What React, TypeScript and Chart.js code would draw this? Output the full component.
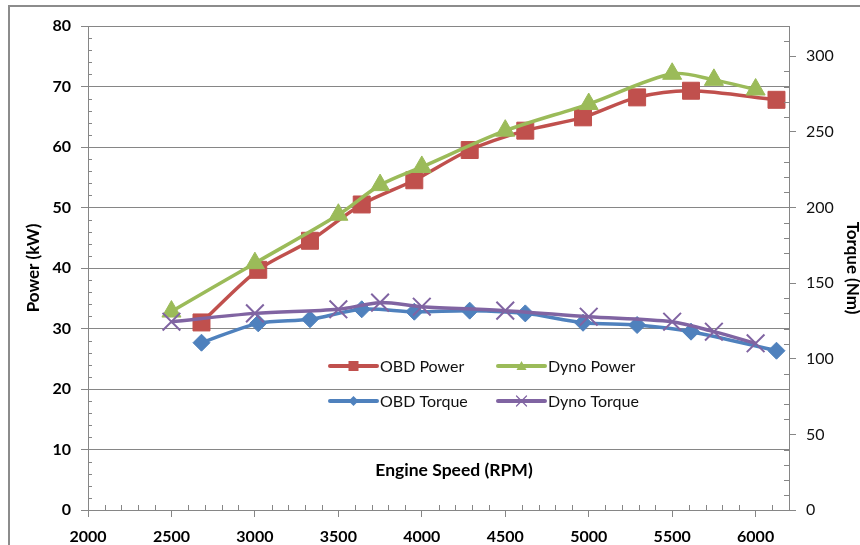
import React, { useEffect, useRef } from "react";
import { Chart, registerables } from "chart.js";

Chart.register(...registerables);

// ---- data ----
const seriesNames = ["OBD Power", "Dyno Power", "OBD Torque", "Dyno Torque"];
const rpmObd = [2680, 3020, 3330, 3640, 3955, 4287, 4620, 4966, 5290, 5613, 6125];
const obdPower = [31.0, 39.7, 44.5, 50.5, 54.5, 59.5, 62.7, 64.9, 68.2, 69.3, 67.8];
const obdTorque = [110.6, 123.4, 126.1, 132.7, 131.1, 131.8, 130.0, 123.8, 122.3, 117.9, 105.3];
const rpmDyno = [2500, 3000, 3500, 3750, 4000, 4500, 5000, 5500, 5750, 6000];
const dynoPower = [32.8, 40.8, 48.8, 53.7, 56.7, 62.7, 67.1, 72.1, 71.1, 69.5];
const dynoTorque = [124.5, 130.0, 132.7, 137.1, 134.4, 131.8, 127.8, 124.5, 117.9, 110.2];

const xTickValues = [2000, 2500, 3000, 3500, 4000, 4500, 5000, 5500, 6000];
const powerTickValues = [0, 10, 20, 30, 40, 50, 60, 70, 80];
const torqueTickValues = [0, 50, 100, 150, 200, 250, 300];

const xTitle = "Engine Speed (RPM)";
const yLeftTitle = "Power (kW)";
const yRightTitle = "Torque (Nm)";

const RED = "#C0504D";
const GREEN = "#9BBB59";
const BLUE = "#4F81BD";
const PURPLE = "#8064A2";
const AXIS = "#868686";
const FONT = "Lato, 'Noto Sans', sans-serif";

const pts = (xs: number[], ys: number[]) => xs.map((x, i) => ({ x, y: ys[i] }));
const setTicks = (vals: number[]) => (s: any) => {
  s.ticks = vals.map((v) => ({ value: v }));
};

const overlayPlugin = {
  id: "overlay",
  beforeDraw(chart: any) {
    const ctx = chart.ctx;
    ctx.save();
    ctx.fillStyle = "#fff";
    ctx.fillRect(0, 0, chart.width, chart.height);
    ctx.strokeStyle = "#8c8c8c";
    ctx.lineWidth = 2;
    ctx.beginPath();
    ctx.moveTo(9, chart.height + 2);
    ctx.lineTo(9, 6);
    ctx.lineTo(chart.width + 2, 6);
    ctx.stroke();
    ctx.restore();
  },
  afterDraw(chart: any) {
    const ctx = chart.ctx;
    const xs = chart.scales.x;
    const yl = chart.scales.y;
    const yr = chart.scales.y2;
    const area = chart.chartArea;
    ctx.save();
    ctx.strokeStyle = AXIS;
    ctx.lineWidth = 1;
    ctx.beginPath();
    for (let v = 0; v <= 80; v += 2) {
      if (v % 10 === 0) continue;
      const y = Math.round(yl.getPixelForValue(v)) + 0.5;
      ctx.moveTo(area.left, y);
      ctx.lineTo(area.left + 4, y);
    }
    for (let r = 2100; r <= 6200; r += 100) {
      if (r % 500 === 0) continue;
      const x = Math.round(xs.getPixelForValue(r)) + 0.5;
      ctx.moveTo(x, area.bottom);
      ctx.lineTo(x, area.bottom - 5);
    }
    for (let t = 10; t <= 320; t += 10) {
      if (t % 50 === 0) continue;
      const y = Math.round(yr.getPixelForValue(t)) + 0.5;
      ctx.moveTo(area.right, y);
      ctx.lineTo(area.right - 5, y);
    }
    ctx.stroke();

    // x axis title inside the plot
    ctx.fillStyle = "#000";
    ctx.font = `bold 17.5px ${FONT}`;
    ctx.textAlign = "center";
    ctx.textBaseline = "middle";
    ctx.fillText(xTitle, 454, 470);

    // legend
    const colors = [RED, GREEN, BLUE, PURPLE];
    const lx = [330, 498];
    const ly = [366, 401];
    ctx.font = `16px ${FONT}`;
    ctx.textAlign = "left";
    seriesNames.forEach((name, i) => {
      const col = i % 2;
      const row = Math.floor(i / 2);
      const x0 = lx[col];
      const y0 = ly[row];
      const c = colors[i];
      ctx.strokeStyle = c;
      ctx.lineWidth = 4;
      ctx.lineCap = "round";
      ctx.beginPath();
      ctx.moveTo(x0, y0);
      ctx.lineTo(x0 + 47, y0);
      ctx.stroke();
      const cx = x0 + 23.5;
      ctx.fillStyle = c;
      ctx.strokeStyle = c;
      if (i === 0) {
        ctx.fillRect(cx - 5, y0 - 5, 10, 10);
      } else if (i === 1) {
        ctx.beginPath();
        ctx.moveTo(cx, y0 - 5);
        ctx.lineTo(cx + 5, y0 + 4);
        ctx.lineTo(cx - 5, y0 + 4);
        ctx.closePath();
        ctx.fill();
      } else if (i === 2) {
        ctx.beginPath();
        ctx.moveTo(cx, y0 - 5);
        ctx.lineTo(cx + 5, y0);
        ctx.lineTo(cx, y0 + 5);
        ctx.lineTo(cx - 5, y0);
        ctx.closePath();
        ctx.fill();
      } else {
        ctx.lineWidth = 1.2;
        ctx.beginPath();
        ctx.moveTo(cx - 5, y0 - 5);
        ctx.lineTo(cx + 5, y0 + 5);
        ctx.moveTo(cx + 5, y0 - 5);
        ctx.lineTo(cx - 5, y0 + 5);
        ctx.stroke();
      }
      ctx.fillStyle = "#111";
      ctx.fillText(name, x0 + 50, y0 + 1);
    });
    ctx.restore();
  },
};

export default function App() {
  const ref = useRef<HTMLCanvasElement | null>(null);
  useEffect(() => {
    if (!ref.current) return;
    const chart = new Chart(ref.current, {
      type: "line",
      data: {
        datasets: [
          {
            label: seriesNames[0],
            data: pts(rpmObd, obdPower),
            yAxisID: "y",
            borderColor: RED,
            backgroundColor: RED,
            borderWidth: 3.5,
            pointStyle: "rect",
            pointRadius: 12,
            pointBorderWidth: 1,
            tension: 0.3,
            order: 4,
          },
          {
            label: seriesNames[1],
            data: pts(rpmDyno, dynoPower),
            yAxisID: "y",
            borderColor: GREEN,
            backgroundColor: GREEN,
            borderWidth: 3.5,
            pointStyle: "triangle",
            pointRadius: 11,
            pointBorderWidth: 1,
            tension: 0.3,
            order: 3,
          },
          {
            label: seriesNames[2],
            data: pts(rpmObd, obdTorque),
            yAxisID: "y2",
            borderColor: BLUE,
            backgroundColor: BLUE,
            borderWidth: 3.5,
            pointStyle: "rectRot",
            pointRadius: 8.5,
            pointBorderWidth: 1,
            tension: 0.3,
            order: 2,
          },
          {
            label: seriesNames[3],
            data: pts(rpmDyno, dynoTorque),
            yAxisID: "y2",
            borderColor: PURPLE,
            backgroundColor: PURPLE,
            borderWidth: 3.5,
            pointStyle: "crossRot",
            pointRadius: 12.5,
            pointBorderWidth: 2,
            tension: 0.3,
            order: 1,
          },
        ],
      },
      options: {
        animation: false,
        responsive: false,
        devicePixelRatio: 1,
        layout: { padding: { top: 26, left: 0, right: 0, bottom: 0 } },
        plugins: {
          legend: { display: false },
          tooltip: { enabled: false },
        },
        scales: {
          x: {
            type: "linear",
            min: 2000,
            max: 6200,
            afterBuildTicks: setTicks(xTickValues),
            afterFit: (s: any) => {
              s.height = 35;
            },
            ticks: {
              autoSkip: false,
              color: "#000",
              padding: 10,
              maxRotation: 0,
              callback: (v: any) => String(v),
              font: { family: FONT, size: 16, weight: "bold" },
            },
            grid: { drawOnChartArea: false, color: AXIS, tickLength: 7 },
            border: { color: AXIS },
          },
          y: {
            position: "left",
            min: 0,
            max: 80,
            afterBuildTicks: setTicks(powerTickValues),
            afterFit: (s: any) => {
              s.width = 88;
            },
            ticks: {
              autoSkip: false,
              color: "#000",
              padding: 10,
              callback: (v: any) => String(v),
              font: { family: FONT, size: 16, weight: "bold" },
            },
            grid: { color: AXIS, tickLength: 7 },
            border: { color: AXIS },
            title: {
              display: true,
              text: yLeftTitle,
              color: "#000",
              padding: { top: 23, bottom: 0 },
              font: { family: FONT, size: 17, weight: "bold" },
            },
          },
          y2: {
            position: "right",
            min: 0,
            max: 320,
            afterBuildTicks: setTicks(torqueTickValues),
            afterFit: (s: any) => {
              s.width = 71;
            },
            ticks: {
              autoSkip: false,
              color: "#111",
              padding: 10,
              callback: (v: any) => String(v),
              font: { family: FONT, size: 16 },
            },
            grid: { drawOnChartArea: false, color: AXIS, tickLength: 7 },
            border: { color: AXIS },
            title: {
              display: true,
              text: yRightTitle,
              color: "#000",
              padding: { top: -3, bottom: 0 },
              font: { family: FONT, size: 17, weight: "bold" },
            },
          },
        },
      },
      plugins: [overlayPlugin],
    } as any);
    return () => chart.destroy();
  }, []);
  return (
    <div style={{ position: "absolute", left: 0, top: 0, width: 860, height: 545 }}>
      <canvas ref={ref} width={860} height={545} />
    </div>
  );
}
